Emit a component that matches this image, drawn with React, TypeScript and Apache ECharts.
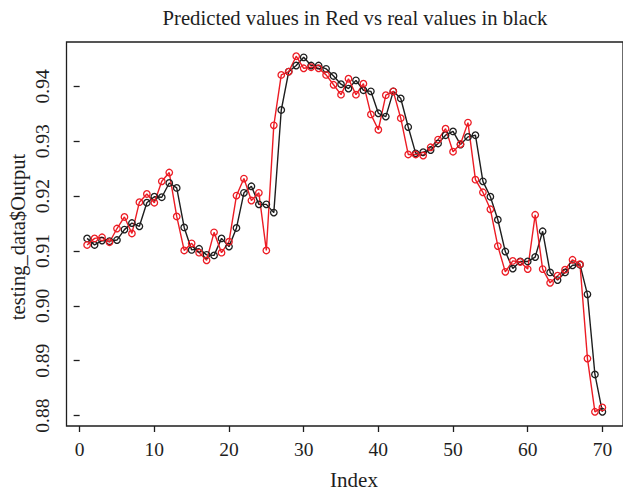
import React, { useEffect, useRef } from "react";
import * as echarts from "echarts";

const realValues = [
  0.9123, 0.9111, 0.9119, 0.9118, 0.912, 0.9139, 0.9151, 0.9145, 0.9188, 0.9199,
  0.9198, 0.9224, 0.9215, 0.9143, 0.9102, 0.9104, 0.9093, 0.9092, 0.9123, 0.9108,
  0.9142, 0.9206, 0.9218, 0.9185, 0.9185, 0.917, 0.9357, 0.9427, 0.9438, 0.9453,
  0.9438, 0.9438, 0.9432, 0.9419, 0.9404, 0.9396, 0.9411, 0.9393, 0.9391, 0.9351,
  0.9345, 0.9391, 0.9378, 0.9326, 0.9278, 0.928, 0.9284, 0.9296, 0.9311, 0.9318,
  0.9294, 0.9308, 0.9311, 0.9227, 0.9199, 0.9157, 0.9099, 0.9068, 0.9081, 0.9081,
  0.9089, 0.9136, 0.9061, 0.9047, 0.9061, 0.9074, 0.9075, 0.9021, 0.8875, 0.8807,
];

const predictedValues = [
  0.9111, 0.9123, 0.9125, 0.9116, 0.9141, 0.9162, 0.9132, 0.9189, 0.9204, 0.9188,
  0.9227, 0.9243, 0.9163, 0.9101, 0.9114, 0.9097, 0.9083, 0.9134, 0.9097, 0.9117,
  0.9201, 0.9232, 0.9192, 0.9206, 0.9101, 0.9329, 0.9421, 0.9427, 0.9455, 0.9433,
  0.9435, 0.9433, 0.9421, 0.9403, 0.9385, 0.9414, 0.9385, 0.9405, 0.9349, 0.9321,
  0.9384, 0.9391, 0.9342, 0.9276, 0.9276, 0.9274, 0.9289, 0.9303, 0.9323, 0.9281,
  0.9295, 0.9334, 0.923, 0.9207, 0.9176, 0.9109, 0.9062, 0.9082, 0.908, 0.9067,
  0.9166, 0.9067, 0.9042, 0.9055, 0.9066, 0.9084, 0.9076, 0.8904, 0.8807, 0.8815,
];

const xTicks = [0, 10, 20, 30, 40, 50, 60, 70];
const yTicks = [0.88, 0.89, 0.9, 0.91, 0.92, 0.93, 0.94];

const titleText = "Predicted values in Red vs real values in black";
const xName = "Index";
const yName = "testing_data$Output";

const FONT = '"Liberation Serif", "DejaVu Serif", serif';
const INK = "#1e1e1e";
const RED = "#ec1c24";

export default function App() {
  const ref = useRef<HTMLDivElement>(null);

  useEffect(() => {
    document.body.style.margin = "0";
    if (!ref.current) return;
    const chart = echarts.init(ref.current, null, { renderer: "svg" });

    const n = realValues.length;
    const allVals = realValues.concat(predictedValues);
    const dMin = Math.min(...allVals);
    const dMax = Math.max(...allVals);
    const yPad = (dMax - dMin) * 0.04;
    const xPad = (n - 1) * 0.04;

    const toPairs = (arr: number[]) => arr.map((v, i) => [i + 1, v]);

    chart.setOption({
      animation: false,
      grid: {
        left: 66.5,
        top: 42,
        width: 559,
        height: 384,
        show: true,
        borderColor: INK,
        borderWidth: 1.3,
        backgroundColor: "transparent",
      },
      xAxis: {
        type: "value",
        min: 1 - xPad,
        max: n + xPad,
        axisLine: { show: false },
        splitLine: { show: false },
        axisTick: {
          show: true,
          inside: false,
          length: 6,
          customValues: xTicks,
          lineStyle: { color: INK, width: 1.3 },
        },
        axisLabel: {
          customValues: xTicks,
          fontFamily: FONT,
          fontSize: 19.5,
          color: INK,
          margin: 13,
        },
      },
      yAxis: {
        type: "value",
        min: dMin - yPad,
        max: dMax + yPad,
        axisLine: { show: false },
        splitLine: { show: false },
        axisTick: {
          show: true,
          inside: false,
          length: 6,
          customValues: yTicks,
          lineStyle: { color: INK, width: 1.3 },
        },
        axisLabel: {
          customValues: yTicks,
          rotate: 90,
          fontFamily: FONT,
          fontSize: 19.5,
          color: INK,
          margin: 14,
          formatter: (v: number) => v.toFixed(2),
        },
      },
      graphic: [
        {
          type: "text",
          x: 355,
          y: 18,
          style: {
            text: titleText,
            textAlign: "center",
            textVerticalAlign: "middle",
            font: `20.7px ${FONT}`,
            fill: INK,
          },
        },
        {
          type: "text",
          x: 354,
          y: 480,
          style: {
            text: xName,
            textAlign: "center",
            textVerticalAlign: "middle",
            font: `21px ${FONT}`,
            fill: INK,
          },
        },
        {
          type: "text",
          x: 18,
          y: 237,
          rotation: Math.PI / 2,
          style: {
            text: yName,
            textAlign: "center",
            textVerticalAlign: "middle",
            font: `20.5px ${FONT}`,
            fill: INK,
          },
        },
      ],
      series: [
        {
          name: "real",
          type: "line",
          data: toPairs(realValues),
          symbol: "circle",
          symbolSize: 6.5,
          showSymbol: true,
          itemStyle: { color: "rgba(0,0,0,0)", borderColor: INK, borderWidth: 1.3 },
          lineStyle: { color: INK, width: 1.4 },
          emphasis: { disabled: true },
          silent: true,
        },
        {
          name: "predicted",
          type: "line",
          data: toPairs(predictedValues),
          symbol: "circle",
          symbolSize: 6.5,
          showSymbol: true,
          itemStyle: { color: "rgba(0,0,0,0)", borderColor: RED, borderWidth: 1.3 },
          lineStyle: { color: RED, width: 1.4 },
          emphasis: { disabled: true },
          silent: true,
        },
      ],
    });

    return () => chart.dispose();
  }, []);

  return <div ref={ref} style={{ width: 623, height: 491 }} />;
}
